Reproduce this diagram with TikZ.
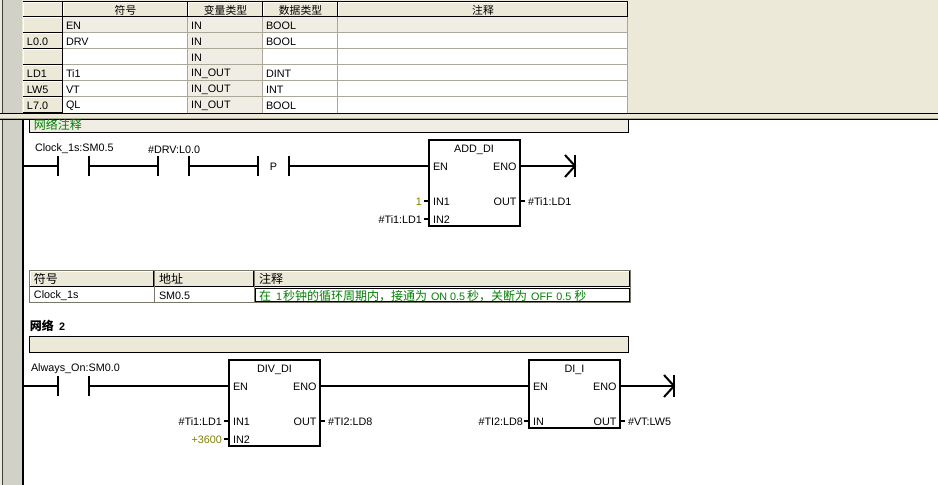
\documentclass[tikz,border=0pt]{standalone}
\usepackage{fontspec}
\setmainfont{Liberation Sans}
\newfontfamily\cjk{Noto Sans CJK SC}
\definecolor{panel}{HTML}{ECE9D8}
\definecolor{lightrow}{HTML}{F0EEE4}
\definecolor{gridc}{HTML}{ACA899}
\definecolor{hatch}{HTML}{D2D1C8}
\definecolor{cmt}{HTML}{008000}
\definecolor{konst}{HTML}{808000}
\newcommand{\hdrcell}[6]{%
  \path[fill=panel] (#2,#3) rectangle (#4,#5);
  \draw[white,line width=1] (#2+.5,#5-1) -- (#2+.5,#3+.5) -- (#4-1,#3+.5);
  \draw[black,line width=1.4] (#2,#5-.5) -- (#4-.5,#5-.5) -- (#4-.5,#3);
  \node[txt,anchor=center] (#1) at ({(#2+#4)/2},{(#3+#5)/2}) {#6};}
\newcommand{\rowcell}[6]{%
  \path[fill=panel] (#2,#3) rectangle (#4,#5);
  \draw[white,line width=1] (#2+.5,#5-1) -- (#2+.5,#3+.5) -- (#4-1,#3+.5);
  \draw[black,line width=1.4] (#2,#5-.5) -- (#4-.5,#5-.5) -- (#4-.5,#3);
  \node[txt] (#1) at (#2+4,{(#3+#5)/2}) {#6};}
\newcommand{\contact}[3]{%
  \coordinate (#1l) at (#2,#3); \coordinate (#1r) at (#2+31,#3);
  \draw[bar] (#2,#3-10) -- (#2,#3+10);
  \draw[bar] (#2+31,#3-10) -- (#2+31,#3+10);}
\tikzset{
  x=1pt,y=-1pt,
  txt/.style={font=\fontsize{10.8}{12}\selectfont,inner sep=0pt,outer sep=0pt,anchor=west,text=black,yshift=-0.7pt},
  bar/.style={line width=2,black},
  wire/.style={line width=2,black},
  blockbox/.style={draw=black,line width=2,fill=white,anchor=north west,inner sep=0pt,outer sep=0pt},
  grid/.style={draw=gridc,line width=1},
  tlabel/.style={txt,anchor=south west},
  cjlabel/.style={font=\fontsize{12}{12}\cjk,inner sep=0pt,outer sep=0pt,anchor=west},
}
\begin{document}
\begin{tikzpicture}
\useasboundingbox (0,0) rectangle (938,485);
\fill[white] (0,0) rectangle (938,485);
% ---- top region
\fill[panel] (0,0) rectangle (938,113);
\fill[panel] (0,113) rectangle (2,485);
\fill[hatch] (3,0) rectangle (22,113);
\draw[black!75,line width=1] (2.5,0) -- (2.5,485);
\fill[white] (63,33) rectangle (188,113);
\fill[white] (263,33) rectangle (628,113);
\fill[lightrow] (63,17) rectangle (628,33);
\fill[lightrow] (188,33) rectangle (263,113);
\draw[black,line width=1] (23,.5) -- (23,113);
\draw[black,line width=1] (23,1.5) -- (628,1.5);
\hdrcell{c0}{23}{2}{63}{17}{}
\hdrcell{c1}{63}{2}{188}{17}{\cjk 符号}
\hdrcell{c2}{188}{2}{263}{17}{\cjk 变量类型}
\hdrcell{c3}{263}{2}{338}{17}{\cjk 数据类型}
\hdrcell{c4}{338}{2}{628}{17}{\cjk 注释}
\rowcell{r1}{23}{17}{63}{33}{}
\rowcell{r2}{23}{33}{63}{49}{L0.0}
\rowcell{r3}{23}{49}{63}{65}{}
\rowcell{r4}{23}{65}{63}{81}{LD1}
\rowcell{r5}{23}{81}{63}{97}{LW5}
\rowcell{r6}{23}{97}{63}{113}{L7.0}
\foreach \yy in {33,49,65,81,97} \draw[grid] (63,\yy-.5) -- (628,\yy-.5);
\foreach \xx in {188,263,338,628} \draw[grid] (\xx-.5,17) -- (\xx-.5,113);
\node[txt] (a1) at (66,25) {EN};   \node[txt] (b1) at (191,25) {IN};     \node[txt] (d1) at (266,25) {BOOL};
\node[txt] (a2) at (66,41) {DRV};  \node[txt] (b2) at (191,41) {IN};     \node[txt] (d2) at (266,41) {BOOL};
\node[txt] (b3) at (191,57) {IN};
\node[txt] (a4) at (66,73) {Ti1};  \node[txt] (b4) at (191,73) {IN\_OUT}; \node[txt] (d4) at (266,73) {DINT};
\node[txt] (a5) at (66,89) {VT};   \node[txt] (b5) at (191,89) {IN\_OUT}; \node[txt] (d5) at (266,89) {INT};
\node[txt] (a6) at (66,105) {QL};  \node[txt] (b6) at (191,105) {IN\_OUT}; \node[txt] (d6) at (266,105) {BOOL};
% separator band
\draw[black,line width=1] (0,113.5) -- (938,113.5);
\fill[panel] (0,114) rectangle (938,119);
\draw[gridc,line width=1] (0,118.5) -- (938,118.5);
\draw[black,line width=1] (0,119.5) -- (938,119.5);
% ---- lower region
\fill[hatch] (3,120) rectangle (22,485);
\draw[black,line width=2] (23,120) -- (23,485);
\coordinate (rail1) at (23,166);
\coordinate (rail2) at (23,386);
% network comment
\draw[black,line width=1,fill=lightrow] (29.5,120) -- (29.5,132.5) -- (628.5,132.5) -- (628.5,120);
\node[cjlabel,text=cmt] (netnote) at (34,125) {网络注释};
% network 1
\contact{k1}{58}{166}
\contact{k2}{158}{166}
\contact{k3}{258}{166}
\node[tlabel] (k1t) at (35,153) {Clock\_1s:SM0.5};
\node[tlabel] (k2t) at (148,153) {\#DRV:L0.0};
\node[txt,anchor=center] (pl) at (273.5,166) {P};
\node[blockbox,minimum width=91,minimum height=86] (add) at (429,140) {};
\coordinate (addEN) at (429,166); \coordinate (addENO) at (520,166);
\coordinate (end1) at (575,166);
\draw[wire] (rail1) -- (k1l);
\draw[wire] (k1r) -- (k2l);
\draw[wire] (k2r) -- (k3l);
\draw[wire] (k3r) -- (addEN);
\draw[wire] (addENO) -- (end1);
\draw[wire] (575,155) -- (575,177);
\draw[wire] (565,155) -- (end1) -- (565,177);
\node[txt,anchor=center] (addt) at (474,149) {ADD\_DI};
\node[txt] (addp1) at (433,166) {EN};
\node[txt,anchor=east] (addp2) at (516.5,166) {ENO};
\node[txt] (addp3) at (433,201) {IN1};
\node[txt] (addp4) at (433,219) {IN2};
\node[txt,anchor=east] (addp5) at (516.5,201) {OUT};
\draw[wire] (424,201) -- (429,201);
\draw[wire] (424,219) -- (429,219);
\draw[wire] (520,201) -- (525,201);
\node[txt,anchor=east,text=konst] (a1v) at (422,201) {1};
\node[txt,anchor=east] (a2v) at (422,219) {\#Ti1:LD1};
\node[txt] (a3v) at (528,201) {\#Ti1:LD1};
% symbol table
\hdrcell{s1}{30}{271}{154}{287}{}
\hdrcell{s2}{154}{271}{254}{287}{}
\hdrcell{s3}{254}{271}{630}{287}{}
\node[cjlabel] (s1t) at (34,278.5) {符号};
\node[cjlabel] (s2t) at (159,278.5) {地址};
\node[cjlabel] (s3t) at (259,278.5) {注释};
\draw[gridc!70!black,line width=1] (29.5,270.5) rectangle (630.5,302.5);
\draw[gridc!70!black,line width=1] (154.5,270.5) -- (154.5,302.5);
\draw[gridc!70!black,line width=1] (254.5,270.5) -- (254.5,302.5);
\draw[black,line width=1] (255.5,288.5) rectangle (629.5,301.5);
\node[txt] (s4) at (34,295) {Clock\_1s};
\node[txt] (s5) at (159,295) {SM0.5};
\node[txt,text=cmt] (s6) at (259,295) {{\fontsize{12}{12}\cjk 在}\hspace{5pt}1\hspace{1pt}{\fontsize{12}{12}\cjk 秒钟的循环周期内，接通为}\hspace{4pt}ON\hspace{3pt}0.5\hspace{2pt}{\fontsize{12}{12}\cjk 秒，关断为}\hspace{4pt}OFF\hspace{3.5pt}0.5\hspace{3pt}{\fontsize{12}{12}\cjk 秒}};
% network 2
\node[txt] (n2) at (30,325) {\bfseries{\fontsize{12}{12}\cjk 网络}\hspace{5pt}2};
\draw[black,line width=1,fill=panel] (29.5,336.5) rectangle (628.5,352.5);
\contact{k4}{58}{386}
\node[tlabel] (k4t) at (31,373) {Always\_On:SM0.0};
\node[blockbox,minimum width=91,minimum height=86] (div) at (229,360) {};
\node[blockbox,minimum width=91,minimum height=68] (dii) at (529,360) {};
\coordinate (divEN) at (229,386); \coordinate (divENO) at (320,386);
\coordinate (diiEN) at (529,386); \coordinate (diiENO) at (620,386);
\coordinate (end2) at (674,386);
\draw[wire] (rail2) -- (k4l);
\draw[wire] (k4r) -- (divEN);
\draw[wire] (divENO) -- (diiEN);
\draw[wire] (diiENO) -- (end2);
\draw[wire] (674,375) -- (674,397);
\draw[wire] (664,375) -- (end2) -- (664,397);
\node[txt,anchor=center] (divt) at (274.5,369) {DIV\_DI};
\node[txt] (divp1) at (233,386) {EN};
\node[txt,anchor=east] (divp2) at (316.5,386) {ENO};
\node[txt] (divp3) at (233,421) {IN1};
\node[txt] (divp4) at (233,439) {IN2};
\node[txt,anchor=east] (divp5) at (316.5,421) {OUT};
\draw[wire] (224,421) -- (229,421);
\draw[wire] (224,439) -- (229,439);
\draw[wire] (320,421) -- (325,421);
\node[txt,anchor=east] (d1v) at (222,421) {\#Ti1:LD1};
\node[txt,anchor=east,text=konst] (d2v) at (222,439) {+3600};
\node[txt] (d3v) at (328,421) {\#TI2:LD8};
\node[txt,anchor=center] (diit) at (574.5,369) {DI\_I};
\node[txt] (diip1) at (533,386) {EN};
\node[txt,anchor=east] (diip2) at (616.5,386) {ENO};
\node[txt] (diip3) at (533,421) {IN};
\node[txt,anchor=east] (diip4) at (616.5,421) {OUT};
\draw[wire] (524,421) -- (529,421);
\draw[wire] (620,421) -- (625,421);
\node[txt,anchor=east] (i1v) at (523,421) {\#TI2:LD8};
\node[txt] (i2v) at (628,421) {\#VT:LW5};
\end{tikzpicture}
\end{document}
